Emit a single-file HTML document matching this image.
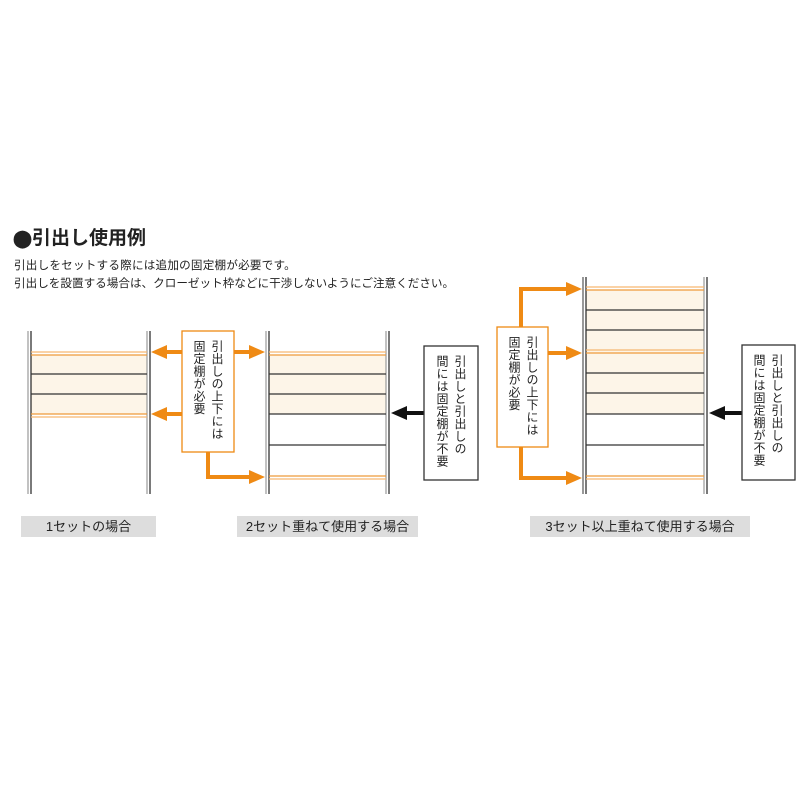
<!DOCTYPE html>
<html><head><meta charset="utf-8"><style>
body{margin:0;background:#fff;width:800px;height:800px;position:relative;overflow:hidden;font-family:"Liberation Sans","Noto Sans CJK JP",sans-serif;color:#222}
.t{position:absolute;white-space:nowrap}
.v{position:absolute;writing-mode:vertical-rl;font-size:12px;line-height:18px;letter-spacing:0.5px}
.lb{position:absolute;background:#ddd;font-size:13px;text-align:center;line-height:21px;height:21px;top:516px}
</style></head><body>
<div class="t" style="left:13px;top:223px;font-size:19px;font-weight:bold"><span style="font-size:17px">⬤</span>引出し使用例</div>
<div class="t" style="left:14px;top:257px;font-size:11.6px;letter-spacing:0.2px">引出しをセットする際には追加の固定棚が必要です。</div>
<div class="t" style="left:14px;top:275px;font-size:11.6px">引出しを設置する場合は、クローゼット枠などに干渉しないようにご注意ください。</div>
<svg width="800" height="800" style="position:absolute;left:0;top:0">
<g stroke-width="1.2">
<rect x="31" y="355" width="116" height="59" fill="#fdf5e8"/>
<line x1="28" y1="331" x2="28" y2="494" stroke="#999"/><line x1="31" y1="331" x2="31" y2="494" stroke="#222"/>
<line x1="147" y1="331" x2="147" y2="494" stroke="#999"/><line x1="150" y1="331" x2="150" y2="494" stroke="#222"/>
<line x1="31" y1="352" x2="147" y2="352" stroke="#f6b870"/><line x1="31" y1="355" x2="147" y2="355" stroke="#ee9a3a"/>
<line x1="31" y1="374" x2="147" y2="374" stroke="#333"/><line x1="31" y1="394" x2="147" y2="394" stroke="#333"/>
<line x1="31" y1="414" x2="147" y2="414" stroke="#ee9a3a"/><line x1="31" y1="417" x2="147" y2="417" stroke="#f6b870"/>
<rect x="269" y="355" width="117" height="59" fill="#fdf5e8"/>
<line x1="266" y1="331" x2="266" y2="494" stroke="#999"/><line x1="269" y1="331" x2="269" y2="494" stroke="#222"/>
<line x1="386" y1="331" x2="386" y2="494" stroke="#999"/><line x1="389" y1="331" x2="389" y2="494" stroke="#222"/>
<line x1="269" y1="352" x2="386" y2="352" stroke="#f6b870"/><line x1="269" y1="355" x2="386" y2="355" stroke="#ee9a3a"/>
<line x1="269" y1="374" x2="386" y2="374" stroke="#333"/><line x1="269" y1="394" x2="386" y2="394" stroke="#333"/>
<line x1="269" y1="414" x2="386" y2="414" stroke="#333"/><line x1="269" y1="445" x2="386" y2="445" stroke="#333"/>
<line x1="269" y1="476" x2="386" y2="476" stroke="#ee9a3a"/><line x1="269" y1="479" x2="386" y2="479" stroke="#f6b870"/>
<rect x="586" y="290" width="118" height="124" fill="#fdf5e8"/>
<line x1="583" y1="277" x2="583" y2="494" stroke="#555"/><line x1="586" y1="277" x2="586" y2="494" stroke="#222"/>
<line x1="704" y1="277" x2="704" y2="494" stroke="#999"/><line x1="707" y1="277" x2="707" y2="494" stroke="#222"/>
<line x1="586" y1="287" x2="704" y2="287" stroke="#f6b870"/><line x1="586" y1="290" x2="704" y2="290" stroke="#ee9a3a"/>
<line x1="586" y1="310" x2="704" y2="310" stroke="#333"/><line x1="586" y1="330" x2="704" y2="330" stroke="#333"/>
<line x1="586" y1="350" x2="704" y2="350" stroke="#f6b870"/><line x1="586" y1="353" x2="704" y2="353" stroke="#ee9a3a"/>
<line x1="586" y1="373" x2="704" y2="373" stroke="#333"/><line x1="586" y1="393" x2="704" y2="393" stroke="#333"/>
<line x1="586" y1="414" x2="704" y2="414" stroke="#333"/><line x1="586" y1="445" x2="704" y2="445" stroke="#333"/>
<line x1="586" y1="476" x2="704" y2="476" stroke="#ee9a3a"/><line x1="586" y1="479" x2="704" y2="479" stroke="#f6b870"/>
</g>
<g stroke="#ef8a14" stroke-width="4" fill="none">
<line x1="182" y1="352" x2="165" y2="352"/><line x1="182" y1="414" x2="165" y2="414"/>
<line x1="234" y1="352" x2="252" y2="352"/>
<polyline points="208,402 208,477 252,477"/>
<polyline points="521,327 521,289 568,289"/>
<line x1="548" y1="353" x2="568" y2="353"/>
<polyline points="521,447 521,478 568,478"/>
</g>
<g fill="#ef8a14">
<polygon points="151,352 167,345 167,359"/><polygon points="151,414 167,407 167,421"/>
<polygon points="265,352 249,345 249,359"/><polygon points="265,477 249,470 249,484"/>
<polygon points="582,289 566,282 566,296"/><polygon points="582,353 566,346 566,360"/><polygon points="582,478 566,471 566,485"/>
</g>
<g stroke="#111" stroke-width="4"><line x1="424" y1="413" x2="404" y2="413"/><line x1="742" y1="413" x2="722" y2="413"/></g>
<g fill="#111"><polygon points="391,413 407,406 407,420"/><polygon points="709,413 725,406 725,420"/></g>
<g fill="#fff" stroke-width="1.3">
<rect x="182" y="331" width="52" height="121" stroke="#ef8a14"/>
<rect x="497" y="327" width="51" height="120" stroke="#ef8a14"/>
<rect x="424" y="346" width="54" height="134" stroke="#333"/>
<rect x="742" y="345" width="53" height="135" stroke="#333"/>
</g>
</svg>
<div class="v" style="left:190px;top:340px">引出しの上下には<br>固定棚が必要</div>
<div class="v" style="left:505px;top:336px">引出しの上下には<br>固定棚が必要</div>
<div class="v" style="left:433px;top:355px">引出しと引出しの<br>間には固定棚が不要</div>
<div class="v" style="left:750px;top:354px">引出しと引出しの<br>間には固定棚が不要</div>
<div class="lb" style="left:21px;width:135px">1セットの場合</div>
<div class="lb" style="left:237px;width:181px">2セット重ねて使用する場合</div>
<div class="lb" style="left:530px;width:220px">3セット以上重ねて使用する場合</div>
</body></html>
